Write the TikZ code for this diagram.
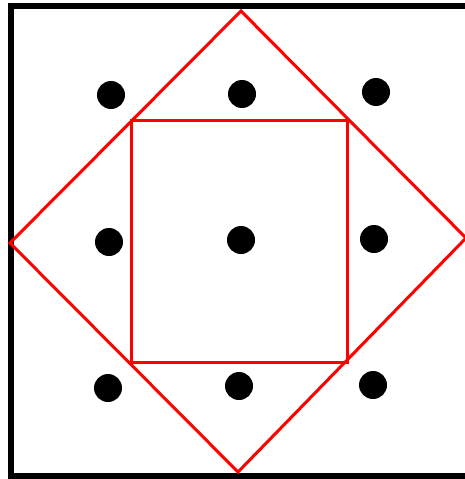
\documentclass[tikz,border=0pt]{standalone}
\usetikzlibrary{positioning}

\begin{document}
\begin{tikzpicture}[x=1pt, y=-1pt,
  frame/.style={draw=black, line width=6pt},
  redline/.style={draw=red, line width=3pt, line join=miter},
  dot/.style={circle, fill=black, inner sep=0pt, minimum size=28pt}]
\useasboundingbox (0,0) rectangle (465,479);
\clip (0,0) rectangle (465,479);
\draw[frame] (11,6) rectangle (480,476);
% diamond corners
\coordinate (dtop) at (241,11);
\coordinate (dright) at (466,238);
\coordinate (dbot) at (238,472);
\coordinate (dleft) at (10,243);
% inner square corners
\coordinate (sa) at (131,120);
\coordinate (sb) at (347,120);
\coordinate (sc) at (347,362);
\coordinate (sd) at (131,362);
\draw[redline] (dtop) -- (dright) -- (dbot) -- (dleft) -- cycle;
\draw[redline] (sa) -- (sb) -- (sc) -- (sd) -- cycle;
% dots
\node[dot] (d11) at (111,95) {};
\node[dot] (d12) at (242,94) {};
\node[dot] (d13) at (376,92) {};
\node[dot] (d21) at (109,242) {};
\node[dot] (d22) at (241,240) {};
\node[dot] (d23) at (374,239) {};
\node[dot] (d31) at (108,388) {};
\node[dot] (d32) at (239,386) {};
\node[dot] (d33) at (373,385) {};
\end{tikzpicture}
\end{document}
